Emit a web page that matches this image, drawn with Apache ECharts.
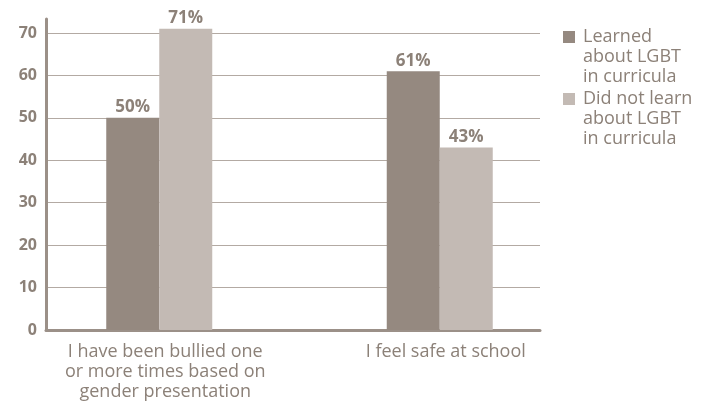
<!DOCTYPE html>
<html>
<head>
<meta charset="utf-8">
<script src="https://cdn.jsdelivr.net/npm/echarts@6/dist/echarts.min.js"></script>
<style>
  html, body { margin: 0; padding: 0; background: #fff; }
  #main { width: 708px; height: 402px; }
</style>
</head>
<body>
<div id="main"></div>
<script>
const categories = ['I have been bullied one\nor more times based on\ngender presentation', 'I feel safe at school'];
const seriesNames = ['Learned\nabout LGBT\nin curricula', 'Did not learn\nabout LGBT\nin curricula'];
const learned = [50, 61];
const notLearned = [71, 43];
const yTicks = [0, 10, 20, 30, 40, 50, 60, 70];

const textColor = '#8c8178';
const darkBar = '#958980';
const lightBar = '#c3bab4';
const font = '"Open Sans", "Noto Sans", sans-serif';

const yMax = 73.3;

let chart = echarts.init(document.getElementById('main'));

// square sits at the top of a tall icon so it lines up with the first text line
const legendIcon = 'path://M0,0h10v10h-10zM0,43.3h10v0.01h-10z';

const barLabel = {
  show: true, position: 'top', distance: 2, formatter: '{c}%',
  color: textColor, fontSize: 17, fontWeight: 'bold', fontFamily: font
};

let option = {
  animation: false,
  textStyle: { fontFamily: font },
  grid: [
    { left: 46, right: 168, top: 19, bottom: 72 },   // visible axes
    { left: 19, right: 128, top: 19, bottom: 72 }    // bars + category labels
  ],
  legend: {
    orient: 'vertical',
    left: 558,
    top: 22,
    itemWidth: 12,
    itemHeight: 52,
    itemGap: 2,
    icon: legendIcon,
    textStyle: { color: textColor, fontSize: 18, lineHeight: 20, fontFamily: font, padding: [0, 0, 0, 3] },
    data: seriesNames
  },
  xAxis: [
    {
      gridIndex: 0, type: 'value', min: 0, max: 1,
      axisLine: { show: true, lineStyle: { color: '#9b9088', width: 3 } },
      axisTick: { show: false }, axisLabel: { show: false }, splitLine: { show: false }
    },
    {
      gridIndex: 1, type: 'category', data: categories,
      axisLine: { show: false }, axisTick: { show: false },
      axisLabel: {
        color: textColor, fontSize: 18, lineHeight: 20, margin: 12, fontFamily: font,
        padding: [0, 0, 0, 12]
      }
    }
  ],
  yAxis: [
    {
      gridIndex: 0, type: 'value', min: 0, max: yMax, interval: 10,
      axisLine: { show: true, lineStyle: { color: '#9b9088', width: 3 } },
      axisTick: { show: false },
      axisLabel: {
        color: textColor, fontSize: 16, fontWeight: 'bold', margin: 9, fontFamily: font,
        showMaxLabel: false,
        formatter: v => yTicks.includes(v) ? String(v) : ''
      },
      splitLine: { show: true, showMinLine: false, showMaxLine: false, lineStyle: { color: '#b3aaa3', width: 1.2 } }
    },
    {
      gridIndex: 1, type: 'value', min: 0, max: yMax, interval: 10, show: false
    }
  ],
  series: [
    {
      name: seriesNames[0], type: 'bar', xAxisIndex: 1, yAxisIndex: 1,
      data: learned, barWidth: 53, barGap: 0,
      itemStyle: { color: darkBar },
      label: barLabel
    },
    {
      name: seriesNames[1], type: 'bar', xAxisIndex: 1, yAxisIndex: 1,
      data: notLearned, barWidth: 53, barGap: 0,
      itemStyle: { color: lightBar },
      label: barLabel
    }
  ]
};

chart.setOption(option);
</script>
</body>
</html>
